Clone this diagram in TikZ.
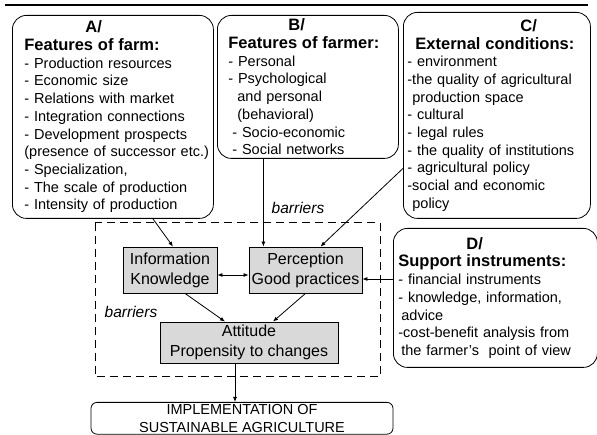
\documentclass[tikz,border=0pt]{standalone}
\usepackage{fontspec}
\setmainfont{Liberation Sans}
\usetikzlibrary{arrows.meta}

\newcommand{\titre}[1]{{\fontsize{16.5}{19}\selectfont\bfseries #1}}

\tikzset{
	cadre/.style={draw, rounded corners=14pt, anchor=north west, align=left, inner ysep=0pt, font=\fontsize{14.5}{17.7}\selectfont},
	etape/.style={draw, fill=gray!30, align=center, inner sep=0pt, font=\fontsize{16}{20}\selectfont},
	obstacle/.style={font=\fontsize{15.5}{18}\selectfont\itshape},
}

\begin{document}
\begin{tikzpicture}[x=1pt, y=-1pt, >={Latex[length=5pt,width=4pt]}, line width=0.8pt]
		\useasboundingbox (0,0) rectangle (597,435);

		% trait du haut
		\draw[line width=2.5pt] (5,5) -- (588,5);

		% cadre A
		\node[cadre, inner xsep=12pt, text width=177pt, minimum height=203pt] (A) at (12,15) {%
			\hspace*{61pt}\titre{A/}\\
			\titre{Features of farm:}\\
			- Production resources\\
			- Economic size\\
			- Relations with market\\
			- Integration connections\\
			- Development prospects\\
			\mbox{(presence of successor etc.)}\\
			- Specialization,\\
			- The scale of production\\
			- Intensity of production};

		% cadre B
		\node[cadre, inner xsep=11pt, text width=159pt, minimum height=143pt] (B) at (217,15) {%
			\hspace*{60pt}\titre{B/}\\
			\titre{Features of farmer:}\\
			- Personal\\
			- Psychological\\
			\hspace*{9pt}and personal\\
			\hspace*{9pt}(behavioral)\\
			\hspace*{4pt}- Socio-economic\\
			\hspace*{4pt}- Social networks};

		% cadre C
		\node[cadre, inner xsep=4pt, text width=179pt, minimum height=206pt] (C) at (403,12) {%
			\hspace*{113pt}\titre{C/}\\
			\hspace*{8pt}\titre{External conditions:}\\
			- environment\\
			-the quality of agricultural\\
			\hspace*{5pt}production space\\
			- cultural\\
			- legal rules\\
			- the quality of institutions\\
			- agricultural policy\\
			-social and economic\\
			\hspace*{5pt}policy};

		% cadre D
		\node[cadre, inner xsep=5pt, text width=194pt, minimum height=139pt] (D) at (393,228) {%
			\hspace*{68pt}\titre{D/}\\
			\titre{Support instruments:}\\
			- financial instruments\\
			- knowledge, information,\\
			\hspace*{3pt}advice\\
			-cost-benefit analysis from\\
			\hspace*{3pt}the farmer's\ \ point of view};

		% zone en pointilles
		\draw[dash pattern=on 8pt off 5pt, line width=1pt] (95,223) rectangle (380,377);

		% etapes
		\node[etape, minimum width=94pt, minimum height=46pt] (info) at (170,270) {Information\\Knowledge};
		\node[etape, minimum width=113pt, minimum height=46pt] (perc) at (305.5,270) {Perception\\Good practices};
		\node[etape, minimum width=178pt, minimum height=41pt] (att) at (249,342.5) {Attitude\\Propensity to changes};

		% resultat
		\node[draw, rounded corners=6pt, anchor=north, minimum width=302pt, inner ysep=2pt, align=center, font=\fontsize{14.5}{17.5}\selectfont] (impl) at (242,402) {IMPLEMENTATION OF\\SUSTAINABLE AGRICULTURE};

		% barrieres
		\node[obstacle] (bar1) at (298,208) {barriers};
		\node[obstacle] (bar2) at (131,312) {barriers};

		% fleches
		\draw[->] ([xshift=40pt]A.south) -- ([xshift=3pt]info.north);
		\draw[->] ([xshift=-44.5pt]B.south) -- ([xshift=-44.5pt]B.south |- perc.north);
		\draw[->] ([yshift=-53pt]C.west) -- ([xshift=15pt]perc.north);
		\draw[<->] ([yshift=-5pt]info.east) -- ([yshift=-5pt]perc.west);
		\coordinate (pin) at ([yshift=-9pt]perc.east);
		\draw[->] (D.west |- pin) -- (pin);
		\draw[->] ([xshift=15pt]info.south) -- ([xshift=-24pt]att.north);
		\draw[->] (perc.south) -- ([xshift=24pt]att.north);
		\draw[->] ([xshift=-14pt]att.south) -- ([xshift=-14pt]att.south |- impl.north);

\end{tikzpicture}
\end{document}
